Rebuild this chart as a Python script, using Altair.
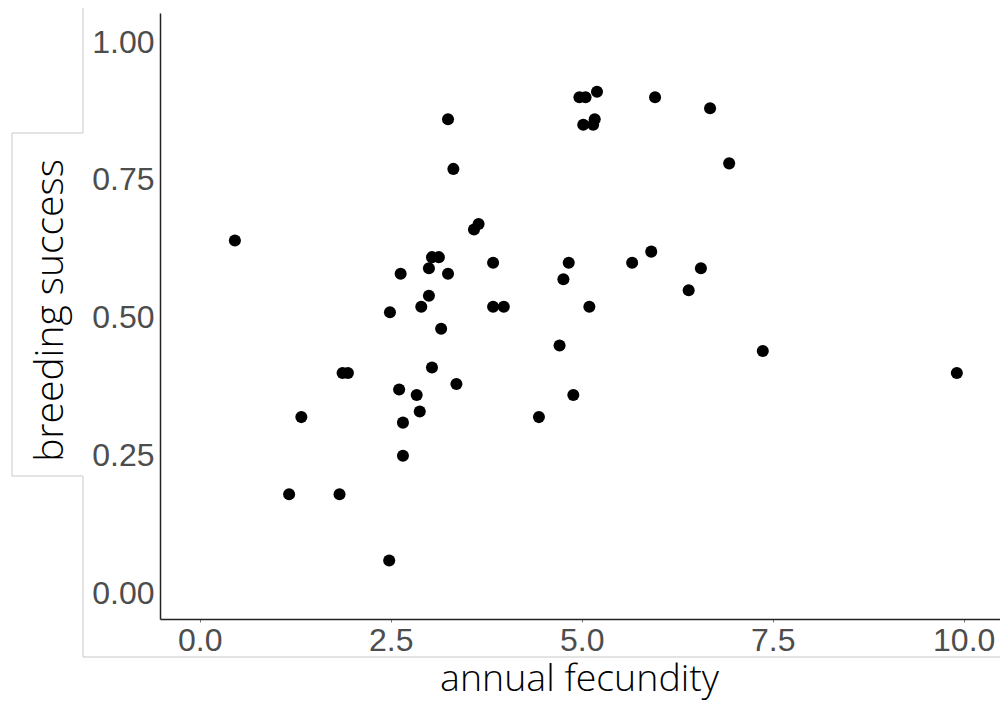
import altair as alt
import pandas as pd

fecundity = [0.46, 1.17, 1.33, 1.83, 1.87, 1.94, 2.48, 2.49, 2.63, 2.61, 2.66, 2.66,
             2.84, 2.88, 2.90, 3.00, 3.00, 3.04, 3.04, 3.13, 3.16, 3.25, 3.25, 3.32,
             3.36, 3.59, 3.65, 3.84, 3.84, 3.98, 4.44, 4.71, 4.76, 4.83, 4.89, 4.97,
             5.05, 5.02, 5.10, 5.17, 5.15, 5.20, 5.66, 5.91, 5.96, 6.40, 6.56, 6.68,
             6.93, 7.37, 9.91]
success = [0.64, 0.18, 0.32, 0.18, 0.40, 0.40, 0.06, 0.51, 0.58, 0.37, 0.31, 0.25,
           0.36, 0.33, 0.52, 0.59, 0.54, 0.61, 0.41, 0.61, 0.48, 0.58, 0.86, 0.77,
           0.38, 0.66, 0.67, 0.60, 0.52, 0.52, 0.32, 0.45, 0.57, 0.60, 0.36, 0.90,
           0.90, 0.85, 0.52, 0.86, 0.85, 0.91, 0.60, 0.62, 0.90, 0.55, 0.59, 0.88,
           0.78, 0.44, 0.40]
x_ticks = [0.0, 2.5, 5.0, 7.5, 10.0]
y_ticks = [0.0, 0.25, 0.5, 0.75, 1.0]

df = pd.DataFrame({"fecundity": fecundity, "success": success})

TITLE_FONT = "Open Sans"
LABEL_FONT = "Liberation Sans"

points = alt.Chart(df).mark_circle(size=145, color="black", opacity=1).encode(
    x=alt.X("fecundity:Q",
            scale=alt.Scale(domain=[-0.52, 10.475], nice=False, zero=False),
            axis=alt.Axis(title="annual fecundity", values=x_ticks, format=".1f",
                          grid=False, domainColor="#222222", domainWidth=1.5,
                          tickColor="#777777", tickSize=3, tickWidth=1,
                          labelFont=LABEL_FONT, labelFontSize=32, labelColor="#4D4D4D",
                          labelPadding=3, labelFlush=False,
                          titleFont=TITLE_FONT, titleFontWeight=300, titleFontSize=37.5,
                          titleColor="#000000", titleBaseline="alphabetic",
                          titleX=419, titleY=71, titleAlign="center")),
    y=alt.Y("success:Q",
            scale=alt.Scale(domain=[-0.046, 1.0526], nice=False, zero=False),
            axis=alt.Axis(title="breeding success", values=y_ticks, format=".2f",
                          grid=False, domainColor="#222222", domainWidth=1.5,
                          ticks=False, labelPadding=6, labelFlush=False,
                          labelFont=LABEL_FONT, labelFontSize=32, labelColor="#4D4D4D",
                          titleFont=TITLE_FONT, titleFontWeight=300, titleFontSize=39,
                          titleColor="#000000", titleAngle=270,
                          titleBaseline="alphabetic", titleAlign="center",
                          titleX=-98, titleY=297)),
)

one = pd.DataFrame({"a": [0]})
GREY = "#c8c8c8"

def seg(x1, x2, y1, y2):
    return alt.Chart(one).mark_rule(color=GREY, strokeWidth=1).encode(
        x=alt.value(x1), x2=alt.value(x2), y=alt.value(y1), y2=alt.value(y2))

frame = [
    seg(-77, -77, -5, 120),
    seg(-148, -77, 120, 120),
    seg(-148, -148, 120, 463),
    seg(-148, -77, 463, 463),
    seg(-77, -77, 463, 644),
    seg(-77, 850, 644, 644),
]

chart = alt.layer(*frame, points).properties(
    width=840, height=606,
    autosize=alt.AutoSizeParams(type="none"),
    padding={"left": 152, "top": 5, "right": 0, "bottom": 81},
    background="white",
).configure_view(stroke=None)

chart.save("out.html", embed_options={"renderer": "svg", "actions": False})
